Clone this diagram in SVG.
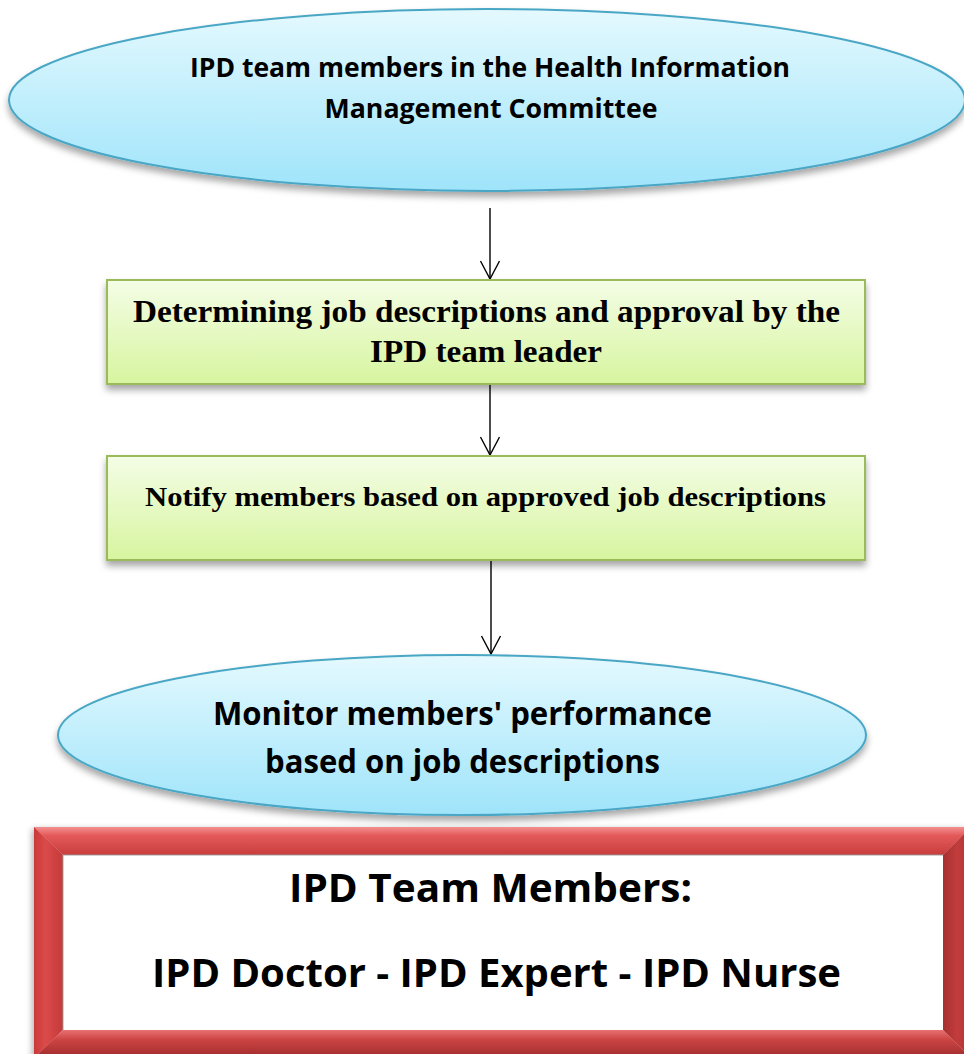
<svg xmlns="http://www.w3.org/2000/svg" width="964" height="1054" viewBox="0 0 964 1054">
  <style>
    .sans { font-family: "Open Sans", "DejaVu Sans", sans-serif; font-weight: bold; fill: #000; text-anchor: middle; }
    .serif { font-family: "Liberation Serif", "Times New Roman", serif; font-weight: bold; fill: #000; text-anchor: middle; }
    .ell { fill: url(#blueGrad); stroke: #4aa7c5; stroke-width: 2; filter: url(#shadow); }
    .box { fill: url(#greenGrad); stroke: #9bbb59; stroke-width: 2; filter: url(#shadow); }
    .conn { stroke: #000; stroke-width: 1.4; fill: none; marker-end: url(#openArrow); }
  </style>
  <defs>
    <linearGradient id="blueGrad" x1="0" y1="0" x2="0" y2="1">
      <stop offset="0" stop-color="#e4f9fe"/>
      <stop offset="1" stop-color="#9fe4fa"/>
    </linearGradient>
    <linearGradient id="greenGrad" x1="0" y1="0" x2="0" y2="1">
      <stop offset="0" stop-color="#f4fde6"/>
      <stop offset="1" stop-color="#d7f59f"/>
    </linearGradient>
    <linearGradient id="frameTop" x1="0" y1="0" x2="0" y2="1">
      <stop offset="0" stop-color="#f39090"/>
      <stop offset="0.3" stop-color="#e45a5a"/>
      <stop offset="1" stop-color="#c83c3c"/>
    </linearGradient>
    <linearGradient id="frameLeft" x1="0" y1="0" x2="1" y2="0">
      <stop offset="0" stop-color="#c93a3a"/>
      <stop offset="0.4" stop-color="#dc4a4a"/>
      <stop offset="1" stop-color="#c43a3a"/>
    </linearGradient>
    <linearGradient id="frameRight" x1="0" y1="0" x2="1" y2="0">
      <stop offset="0" stop-color="#a83030"/>
      <stop offset="0.5" stop-color="#c23c3c"/>
      <stop offset="1" stop-color="#b33434"/>
    </linearGradient>
    <linearGradient id="frameBottom" x1="0" y1="0" x2="0" y2="1">
      <stop offset="0" stop-color="#e87070"/>
      <stop offset="0.35" stop-color="#cc4444"/>
      <stop offset="1" stop-color="#9e2b2b"/>
    </linearGradient>
    <filter id="shadow" x="-5%" y="-10%" width="110%" height="130%">
      <feDropShadow dx="0" dy="5" stdDeviation="3.5" flood-color="#000" flood-opacity="0.35"/>
    </filter>
    <filter id="frameShadow" x="-5%" y="-10%" width="110%" height="130%">
      <feDropShadow dx="-2" dy="2" stdDeviation="3" flood-color="#000" flood-opacity="0.3"/>
    </filter>
    <marker id="openArrow" viewBox="-20 -12 22 24" markerWidth="22" markerHeight="24" refX="0" refY="0" markerUnits="userSpaceOnUse" orient="auto" overflow="visible">
      <path d="M-18,-9.5 L0,0 L-18,9.5" fill="none" stroke="#000" stroke-width="1.4"/>
    </marker>
  </defs>

  <rect x="0" y="0" width="964" height="1054" fill="#ffffff"/>

  <g id="connectors">
    <line class="conn" x1="490" y1="208" x2="490" y2="279"/>
    <line class="conn" x1="490" y1="384" x2="490" y2="455"/>
    <line class="conn" x1="491" y1="561" x2="491" y2="654"/>
  </g>

  <g id="node-committee">
    <ellipse class="ell" cx="487" cy="100" rx="478" ry="91"/>
    <text class="sans" x="490" y="77" font-size="26.5" textLength="600" lengthAdjust="spacingAndGlyphs">IPD team members in the Health Information</text>
    <text class="sans" x="491" y="118" font-size="26.5" textLength="333" lengthAdjust="spacingAndGlyphs">Management Committee</text>
  </g>

  <g id="node-determine">
    <rect class="box" x="107" y="280" width="758" height="104"/>
    <text class="serif" x="486.5" y="322" font-size="32" textLength="707" lengthAdjust="spacingAndGlyphs">Determining job descriptions and approval by the</text>
    <text class="serif" x="486" y="362" font-size="32" textLength="232" lengthAdjust="spacingAndGlyphs">IPD team leader</text>
  </g>

  <g id="node-notify">
    <rect class="box" x="107" y="456" width="758" height="104"/>
    <text class="serif" x="485.5" y="506" font-size="27.5" textLength="681" lengthAdjust="spacingAndGlyphs">Notify members based on approved job descriptions</text>
  </g>

  <g id="node-monitor">
    <ellipse class="ell" cx="462" cy="735" rx="404" ry="80"/>
    <text class="sans" x="462.5" y="725" font-size="32" textLength="499" lengthAdjust="spacingAndGlyphs">Monitor members' performance</text>
    <text class="sans" x="462.5" y="773" font-size="32" textLength="395" lengthAdjust="spacingAndGlyphs">based on job descriptions</text>
  </g>

  <g id="node-team">
    <g filter="url(#frameShadow)">
      <polygon points="34,827 971,827 943,855 63,855" fill="url(#frameTop)"/>
      <polygon points="34,827 63,855 63,1030 34,1058" fill="url(#frameLeft)"/>
      <polygon points="971,827 971,1058 943,1030 943,855" fill="url(#frameRight)"/>
      <polygon points="34,1058 971,1058 943,1030 63,1030" fill="url(#frameBottom)"/>
    </g>
    <rect x="63" y="855" width="880" height="175" fill="#ffffff"/>
    <path d="M63,1030 L63,855 L943,855" fill="none" stroke="#9a9a9a" stroke-width="1.5" opacity="0.6"/>
    <text class="sans" x="490.5" y="902" font-size="39" textLength="403" lengthAdjust="spacingAndGlyphs">IPD Team Members:</text>
    <text class="sans" x="496.5" y="987" font-size="39" textLength="689" lengthAdjust="spacingAndGlyphs">IPD Doctor - IPD Expert - IPD Nurse</text>
  </g>
</svg>
